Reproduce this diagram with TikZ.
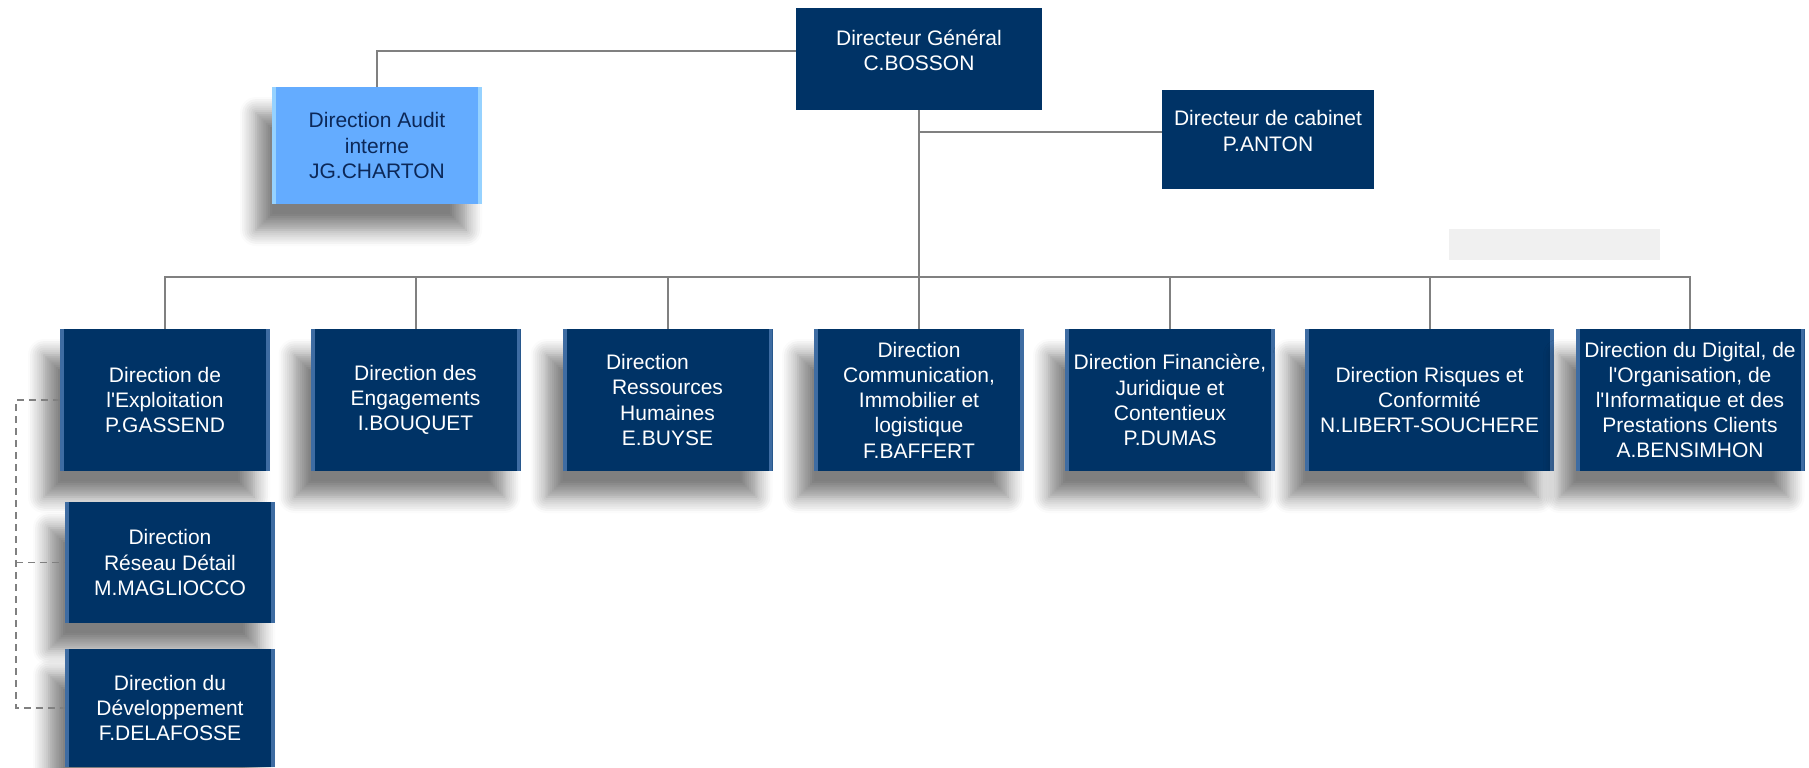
\documentclass[tikz,border=0pt]{standalone}
\usepackage{fontspec}
\setmainfont{Liberation Sans}
\usetikzlibrary{positioning,shadows.blur}

\definecolor{navy}{RGB}{0,51,102}
\definecolor{navyedge}{RGB}{62,108,162}
\definecolor{auditblue}{RGB}{100,172,255}
\definecolor{auditedge}{RGB}{150,210,255}
\definecolor{audittext}{RGB}{12,40,88}
\definecolor{linegray}{RGB}{128,128,128}
\newcommand{\apos}{\textquotesingle}

\tikzset{
  box/.style={fill=navy, text=white, align=center, inner sep=0pt,
    font=\fontsize{10.5}{12.6}\selectfont, minimum width=105pt, minimum height=71pt},
  bevel/.style={path picture={
    \fill[#1] (path picture bounding box.south west) rectangle ([xshift=2pt]path picture bounding box.north west);
    \fill[#1] (path picture bounding box.south east) rectangle ([xshift=-2pt]path picture bounding box.north east);}},
  bevel/.default=navyedge,
  shadowed/.style={blur shadow={shadow xshift=-8pt, shadow yshift=-13pt,
    shadow blur radius=8pt, shadow blur steps=8, shadow opacity=50}},
  link/.style={draw=linegray, line width=1pt},
  sublink/.style={draw=linegray, line width=0.8pt, dash pattern=on 3.5pt off 2.5pt},
}

\begin{document}
\begin{tikzpicture}[x=0.5pt, y=-0.5pt]
  \useasboundingbox (0,0) rectangle (1809,767);
  \fill[gray!12] (1449,229) rectangle (1660,260);

  \node[box, minimum width=123pt, minimum height=51pt] (dg) at (919,59)
    {Directeur Général\\C.BOSSON\\[-4pt]\mbox{}};
  \node[box, minimum width=106pt, minimum height=49.5pt] (cab) at (1268,139.5)
    {Directeur de cabinet\\P.ANTON\\[-4pt]\mbox{}};
  \node[box, shadowed, bevel=auditedge, fill=auditblue, text=audittext,
    minimum height=58.5pt] (audit) at (377,145.5) {Direction Audit\\interne\\JG.CHARTON};

  \node[box, shadowed, bevel] (exploit) at (165,400) {Direction de\\l\apos Exploitation\\P.GASSEND};
  \node[box, shadowed, bevel] (engag) at (415.5,400) {Direction des\\Engagements\\I.BOUQUET};
  \node[box, shadowed, bevel] (rh) at (667.5,400) {Direction\hspace*{20pt}\\Ressources\\Humaines\\E.BUYSE};
  \node[box, shadowed, bevel] (comm) at (919,400) {Direction\\Communication,\\Immobilier et\\logistique\\F.BAFFERT};
  \node[box, shadowed, bevel] (fin) at (1170,400) {Direction Financière,\\Juridique et\\Contentieux\\P.DUMAS};
  \node[box, shadowed, bevel, minimum width=124.5pt] (risk) at (1429.5,400) {Direction Risques et\\Conformité\\N.LIBERT-SOUCHERE};
  \node[box, shadowed, bevel, minimum width=114.5pt] (digit) at (1690,400)
    {Direction du Digital, de\\l\apos Organisation, de\\l\apos Informatique et des\\Prestations Clients\\A.BENSIMHON};

  \node[box, shadowed, bevel, minimum height=60.5pt] (reseau) at (170,562.5) {Direction\\Réseau Détail\\M.MAGLIOCCO};
  \node[box, shadowed, bevel, minimum height=59pt] (devel) at (170,708) {Direction du\\Développement\\F.DELAFOSSE};

  \coordinate (bus) at (919,277);
  \coordinate (spine) at (16,400);

  \draw[link] ([yshift=4pt]dg.west) -| (audit.north);
  \draw[link] (dg.south) |- ([yshift=4pt]cab.west);
  \draw[link] (dg.south) -- (bus);
  \foreach \n in {exploit,engag,rh,comm,fin,risk,digit}
    \draw[link] (bus) -| (\n.north);

  \draw[sublink] (exploit.west) -- (spine) |- (devel.west);
  \draw[sublink] (spine |- reseau.west) -- (reseau.west);
\end{tikzpicture}
\end{document}
